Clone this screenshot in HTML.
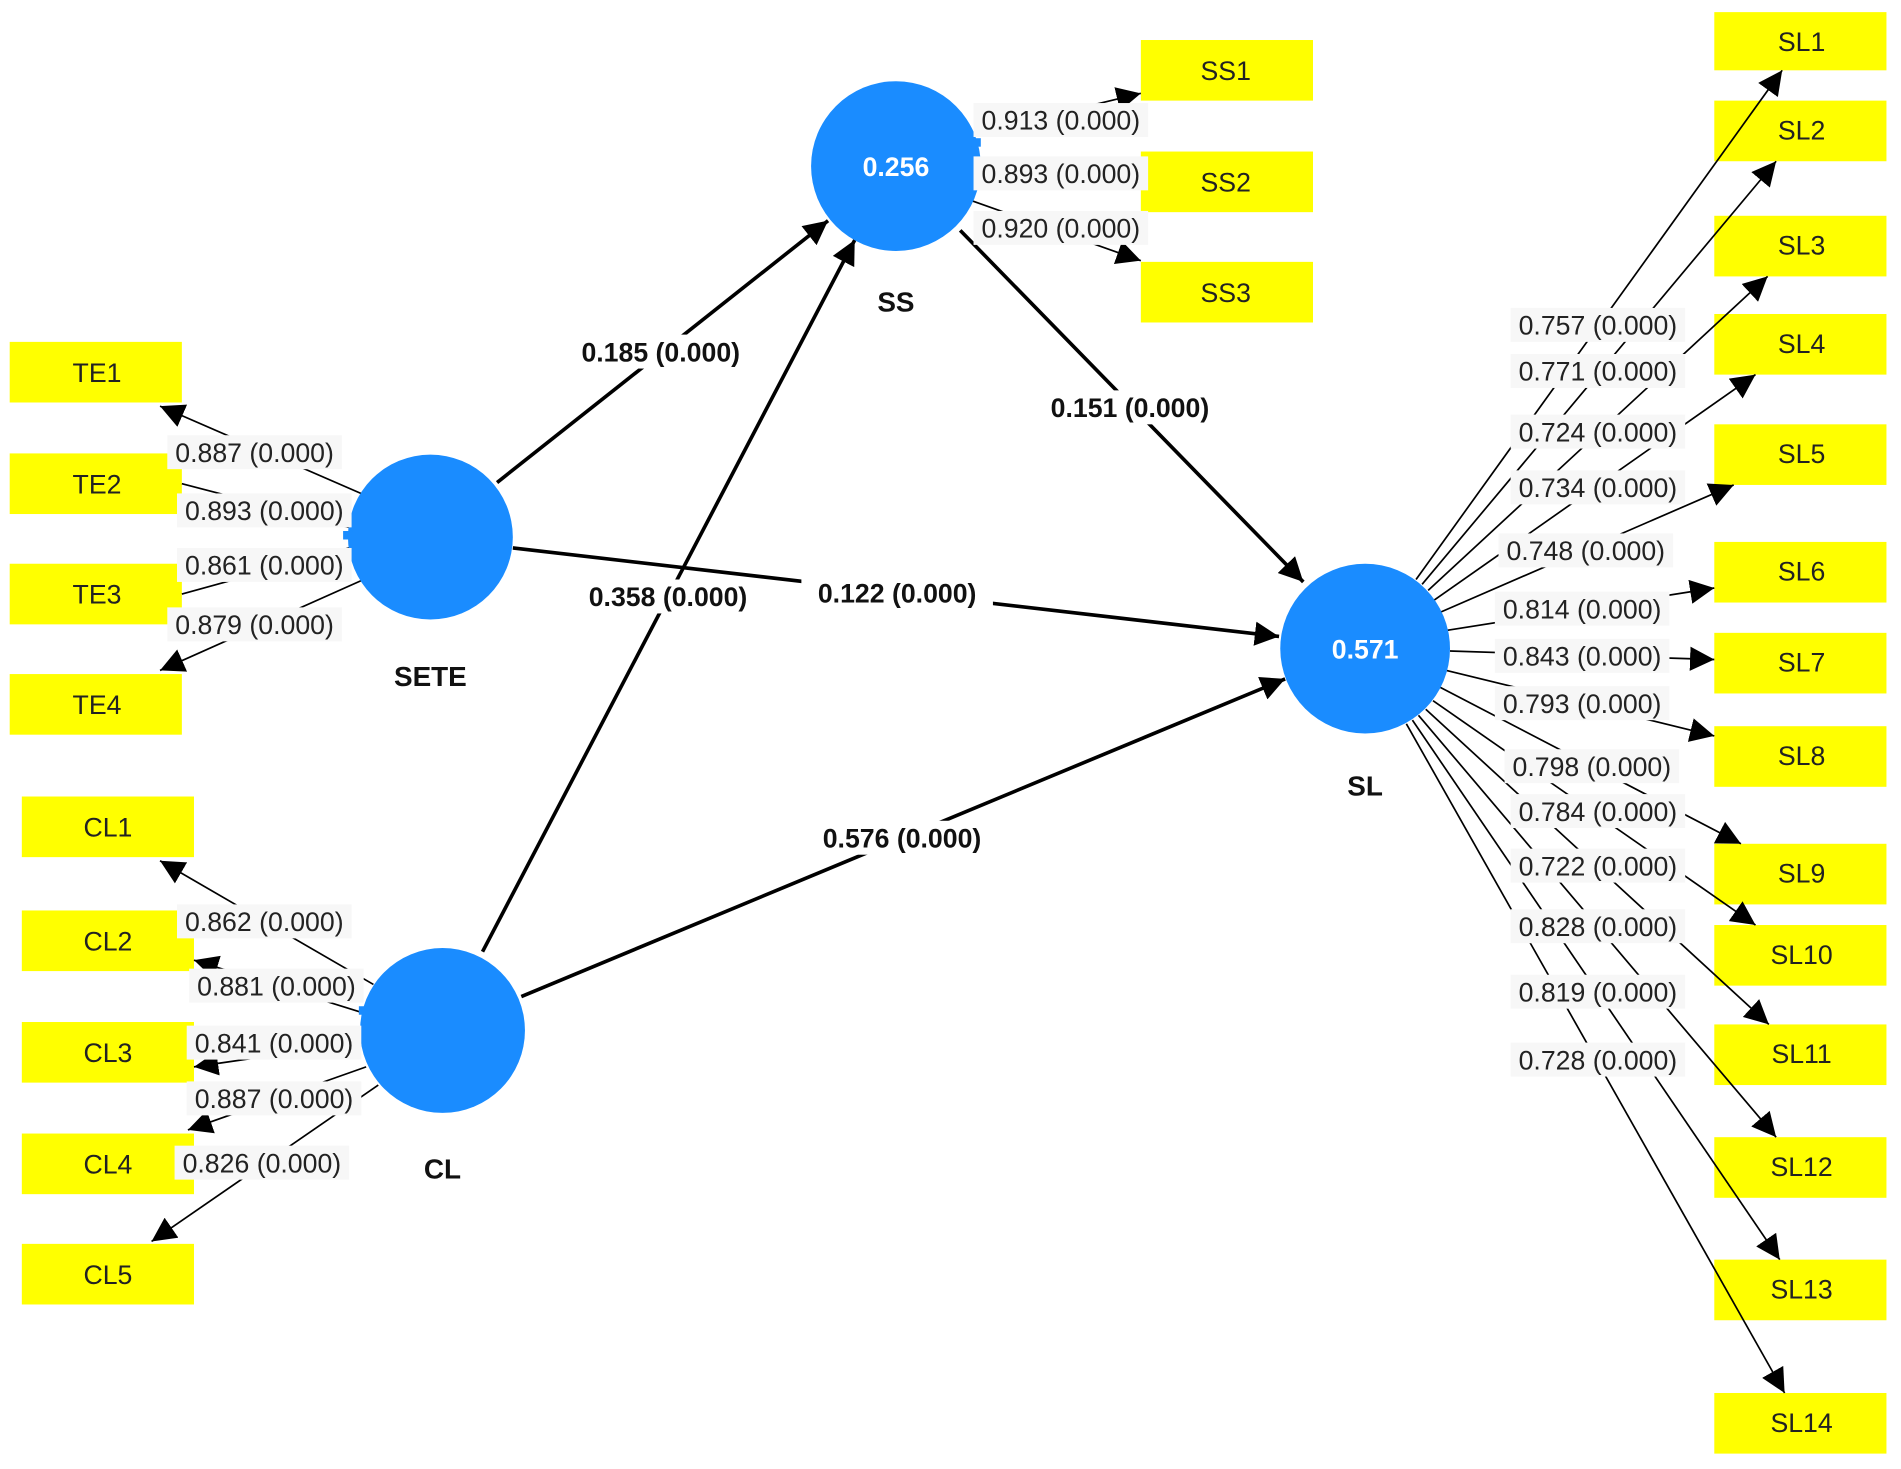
<!DOCTYPE html>
<html><head><meta charset="utf-8"><style>html,body{margin:0;padding:0;background:#fff}svg{display:block}</style></head><body>
<svg width="1901" height="1469" viewBox="0 0 1568 1211.7" preserveAspectRatio="none" xmlns="http://www.w3.org/2000/svg" font-family="Liberation Sans, sans-serif">
<defs>
<marker id="b" viewBox="0 0 10 10" refX="10" refY="5" markerWidth="20" markerHeight="20" orient="auto" markerUnits="userSpaceOnUse"><path d="M0,0L10,5L0,10z"/></marker>
</defs>
<g fill="#ffff00">
<rect x="8" y="282" width="142" height="50"/><rect x="8" y="374" width="142" height="50"/><rect x="8" y="465" width="142" height="50"/><rect x="8" y="556" width="142" height="50"/>
<rect x="18" y="657" width="142" height="50"/><rect x="18" y="751" width="142" height="50"/><rect x="18" y="843" width="142" height="50"/><rect x="18" y="935" width="142" height="50"/><rect x="18" y="1026" width="142" height="50"/>
<rect x="941" y="33" width="142" height="50"/><rect x="941" y="125" width="142" height="50"/><rect x="941" y="216" width="142" height="50"/>
<rect x="1414" y="10" width="142" height="48"/><rect x="1414" y="83" width="142" height="50"/><rect x="1414" y="178" width="142" height="50"/><rect x="1414" y="259" width="142" height="50"/><rect x="1414" y="350" width="142" height="50"/><rect x="1414" y="447" width="142" height="50"/><rect x="1414" y="522" width="142" height="50"/><rect x="1414" y="599" width="142" height="50"/><rect x="1414" y="696" width="142" height="50"/><rect x="1414" y="763" width="142" height="50"/><rect x="1414" y="845" width="142" height="50"/><rect x="1414" y="938" width="142" height="50"/><rect x="1414" y="1039" width="142" height="50"/><rect x="1414" y="1149" width="142" height="50"/>
</g>
<g font-size="22" fill="#222" text-anchor="middle">
<text x="80" y="315">TE1</text><text x="80" y="407">TE2</text><text x="80" y="498">TE3</text><text x="80" y="589">TE4</text>
<text x="89" y="690">CL1</text><text x="89" y="784">CL2</text><text x="89" y="876">CL3</text><text x="89" y="968">CL4</text><text x="89" y="1059">CL5</text>
<text x="1011" y="66">SS1</text><text x="1011" y="158">SS2</text><text x="1011" y="249">SS3</text>
<text x="1486" y="42">SL1</text><text x="1486" y="115">SL2</text><text x="1486" y="210">SL3</text><text x="1486" y="291">SL4</text><text x="1486" y="382">SL5</text><text x="1486" y="479">SL6</text><text x="1486" y="554">SL7</text><text x="1486" y="631">SL8</text><text x="1486" y="728">SL9</text><text x="1486" y="795">SL10</text><text x="1486" y="877">SL11</text><text x="1486" y="970">SL12</text><text x="1486" y="1071">SL13</text><text x="1486" y="1181">SL14</text>
</g>
<g stroke="#000" stroke-width="1.4">
<line x1="288" y1="435" x2="150" y2="399"/><line x1="288" y1="452" x2="150" y2="490"/>
</g>
<g stroke="#000" stroke-width="1.4" marker-end="url(#b)">
<line x1="300" y1="408" x2="132" y2="335"/><line x1="300" y1="478" x2="132" y2="553"/>
<line x1="308" y1="812" x2="132" y2="710"/><line x1="298" y1="835" x2="160" y2="792"/><line x1="298" y1="860" x2="160" y2="880"/><line x1="302" y1="880" x2="155" y2="932"/><line x1="312" y1="895" x2="125" y2="1024"/>
<line x1="805" y1="110" x2="941" y2="77"/><line x1="809" y1="137" x2="941" y2="148"/><line x1="800" y1="165" x2="941" y2="215"/>
<line x1="1168" y1="478" x2="1470" y2="58"/><line x1="1173" y1="482" x2="1465" y2="133"/><line x1="1178" y1="487" x2="1458" y2="228"/><line x1="1183" y1="495" x2="1448" y2="309"/><line x1="1188" y1="505" x2="1430" y2="400"/><line x1="1193" y1="520" x2="1414" y2="485"/><line x1="1196" y1="537" x2="1414" y2="544"/><line x1="1193" y1="553" x2="1414" y2="607"/><line x1="1188" y1="567" x2="1436" y2="696"/><line x1="1182" y1="578" x2="1448" y2="763"/><line x1="1176" y1="585" x2="1459" y2="845"/><line x1="1170" y1="590" x2="1465" y2="938"/><line x1="1165" y1="594" x2="1468" y2="1039"/><line x1="1160" y1="597" x2="1472" y2="1149"/>
</g>
<g stroke="#000" stroke-width="3" marker-end="url(#b)">
<line x1="410" y1="398" x2="683" y2="182"/><line x1="398" y1="785" x2="705" y2="198"/><line x1="423" y1="452" x2="1055" y2="525"/><line x1="430" y1="822" x2="1060" y2="560"/><line x1="792" y1="190" x2="1075" y2="480"/>
</g>
<g fill="#1a8cff">
<circle cx="739" cy="137" r="70"/><circle cx="355" cy="443" r="68"/><circle cx="365" cy="850" r="68"/><circle cx="1126" cy="535" r="70"/>
<rect x="283" y="438" width="8" height="7"/><rect x="296" y="830" width="8" height="7"/><rect x="801" y="114" width="8" height="7"/>
</g>
<g font-size="22" font-weight="bold" fill="#fff" text-anchor="middle"><text x="739" y="145">0.256</text><text x="1126" y="543">0.571</text></g>
<g font-size="23" font-weight="bold" fill="#111" text-anchor="middle"><text x="739" y="257">SS</text><text x="355" y="566">SETE</text><text x="365" y="972">CL</text><text x="1126" y="656">SL</text></g>
<g font-size="22" font-weight="bold" fill="#111" text-anchor="middle">
<rect x="466" y="276" width="158" height="28" fill="#fff"/><text x="545" y="298">0.185 (0.000)</text>
<rect x="472" y="478" width="158" height="28" fill="#fff"/><text x="551" y="500">0.358 (0.000)</text>
<rect x="661" y="475" width="158" height="28" fill="#fff"/><text x="740" y="497">0.122 (0.000)</text>
<rect x="665" y="677" width="158" height="28" fill="#fff"/><text x="744" y="699">0.576 (0.000)</text>
<rect x="853" y="322" width="158" height="28" fill="#fff"/><text x="932" y="344">0.151 (0.000)</text>
</g>
<g font-size="22" fill="#222" text-anchor="middle">
<g fill="#f7f7f7"><rect x="138" y="359" width="144" height="28"/><rect x="146" y="407" width="144" height="28"/><rect x="146" y="452" width="144" height="28"/><rect x="138" y="501" width="144" height="28"/>
<rect x="146" y="746" width="144" height="28"/><rect x="156" y="799" width="144" height="28"/><rect x="154" y="846" width="144" height="28"/><rect x="154" y="892" width="144" height="28"/><rect x="144" y="945" width="144" height="28"/>
<rect x="803" y="85" width="144" height="28"/><rect x="803" y="129" width="144" height="28"/><rect x="803" y="174" width="144" height="28"/>
<rect x="1246" y="254" width="144" height="28"/><rect x="1246" y="292" width="144" height="28"/><rect x="1246" y="342" width="144" height="28"/><rect x="1246" y="388" width="144" height="28"/><rect x="1236" y="440" width="144" height="28"/><rect x="1233" y="488" width="144" height="28"/><rect x="1233" y="527" width="144" height="28"/><rect x="1233" y="566" width="144" height="28"/><rect x="1241" y="618" width="144" height="28"/><rect x="1246" y="655" width="144" height="28"/><rect x="1246" y="700" width="144" height="28"/><rect x="1246" y="750" width="144" height="28"/><rect x="1246" y="804" width="144" height="28"/><rect x="1246" y="860" width="144" height="28"/></g>
<text x="210" y="381">0.887 (0.000)</text><text x="218" y="429">0.893 (0.000)</text><text x="218" y="474">0.861 (0.000)</text><text x="210" y="523">0.879 (0.000)</text>
<text x="218" y="768">0.862 (0.000)</text><text x="228" y="821">0.881 (0.000)</text><text x="226" y="868">0.841 (0.000)</text><text x="226" y="914">0.887 (0.000)</text><text x="216" y="967">0.826 (0.000)</text>
<text x="875" y="107">0.913 (0.000)</text><text x="875" y="151">0.893 (0.000)</text><text x="875" y="196">0.920 (0.000)</text>
<text x="1318" y="276">0.757 (0.000)</text><text x="1318" y="314">0.771 (0.000)</text><text x="1318" y="364">0.724 (0.000)</text><text x="1318" y="410">0.734 (0.000)</text><text x="1308" y="462">0.748 (0.000)</text><text x="1305" y="510">0.814 (0.000)</text><text x="1305" y="549">0.843 (0.000)</text><text x="1305" y="588">0.793 (0.000)</text><text x="1313" y="640">0.798 (0.000)</text><text x="1318" y="677">0.784 (0.000)</text><text x="1318" y="722">0.722 (0.000)</text><text x="1318" y="772">0.828 (0.000)</text><text x="1318" y="826">0.819 (0.000)</text><text x="1318" y="882">0.728 (0.000)</text>
</g>
</svg>
</body></html>
